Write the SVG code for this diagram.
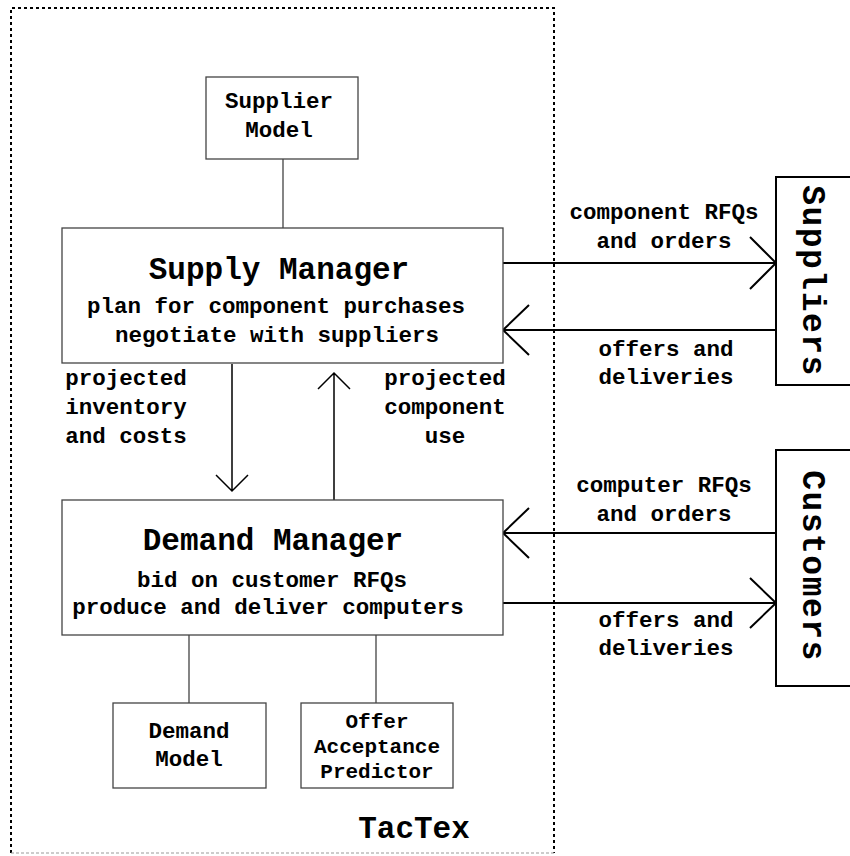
<svg xmlns="http://www.w3.org/2000/svg" width="850" height="856" viewBox="0 0 850 856">
<defs>
<style>
text{font-family:"Liberation Mono","Courier New",monospace;font-weight:bold;fill:#000;text-anchor:middle}
.t{font-size:31px}
.s{font-size:22.5px}
.p{font-size:21px}
.v{font-size:33px;letter-spacing:1.5px}
.box{fill:#fff;stroke:#444;stroke-width:1.3}
.ext{fill:#fff;stroke:#000;stroke-width:2}
.link{stroke:#333;stroke-width:1.2;fill:none}
.arr{stroke:#000;stroke-width:2;fill:none}
.arrv{stroke:#000;stroke-width:1.5;fill:none}
.bd{stroke:#000;stroke-width:2;stroke-dasharray:3,3;fill:none}
</style>
</defs>
<rect width="850" height="856" fill="#fff"/>
<g id="tactex">
<path class="bd" d="M11,853 V8 H554 V853"/>
<path d="M11,853 H554" stroke="#999" stroke-width="1" stroke-dasharray="3,2" fill="none"/>
<text class="t" x="414" y="838">TacTex</text>
</g>
<g id="connectors">
<line class="link" x1="283" y1="159" x2="283" y2="228"/>
<line class="link" x1="189" y1="635" x2="189" y2="703"/>
<line class="link" x1="376" y1="635" x2="376" y2="703"/>
<path class="arrv" d="M232,364 V491 M216,475 L232,491 L248,475"/>
<path class="arrv" d="M334,500 V373 M318,389 L334,373 L350,389"/>
<path class="arr" d="M503,263 H776 M750,237 L776,263 L750,289"/>
<path class="arr" d="M776,330 H503 M529,305 L503,330 L529,355"/>
<path class="arr" d="M776,533 H503 M529,508 L503,533 L529,558"/>
<path class="arr" d="M503,603 H776 M750,578 L776,603 L750,628"/>
<text class="s" x="664" y="219">component RFQs</text>
<text class="s" x="664" y="248">and orders</text>
<text class="s" x="666" y="356">offers and</text>
<text class="s" x="666" y="384">deliveries</text>
<text class="s" x="664" y="492">computer RFQs</text>
<text class="s" x="664" y="521">and orders</text>
<text class="s" x="666" y="627">offers and</text>
<text class="s" x="666" y="655">deliveries</text>
<text class="s" x="126" y="385">projected</text>
<text class="s" x="126" y="414">inventory</text>
<text class="s" x="126" y="443">and costs</text>
<text class="s" x="445" y="385">projected</text>
<text class="s" x="445" y="414">component</text>
<text class="s" x="445" y="443">use</text>
</g>
<g id="supplier-model">
<rect class="box" x="206" y="77" width="152" height="82"/>
<text class="s" x="279" y="108">Supplier</text>
<text class="s" x="279" y="137">Model</text>
</g>
<g id="supply-manager">
<rect class="box" x="62" y="228" width="441" height="135"/>
<text class="t" x="279" y="279">Supply Manager</text>
<text class="s" x="276" y="313">plan for component purchases</text>
<text class="s" x="277" y="342">negotiate with suppliers</text>
</g>
<g id="demand-manager">
<rect class="box" x="62" y="500" width="441" height="135"/>
<text class="t" x="273" y="550">Demand Manager</text>
<text class="s" x="272" y="587">bid on customer RFQs</text>
<text class="s" x="268" y="614">produce and deliver computers</text>
</g>
<g id="demand-model">
<rect class="box" x="113" y="703" width="153" height="85"/>
<text class="s" x="189" y="738">Demand</text>
<text class="s" x="189" y="766">Model</text>
</g>
<g id="offer-acceptance-predictor">
<rect class="box" x="301" y="703" width="152" height="85"/>
<text class="p" x="377" y="728">Offer</text>
<text class="p" x="377" y="753">Acceptance</text>
<text class="p" x="377" y="778">Predictor</text>
</g>
<g id="suppliers">
<rect class="ext" x="776" y="177" width="80" height="208"/>
<text class="v" transform="translate(803,281) rotate(90)">Suppliers</text>
</g>
<g id="customers">
<rect class="ext" x="776" y="450" width="80" height="236"/>
<text class="v" transform="translate(803,566) rotate(90)">Customers</text>
</g>
</svg>
